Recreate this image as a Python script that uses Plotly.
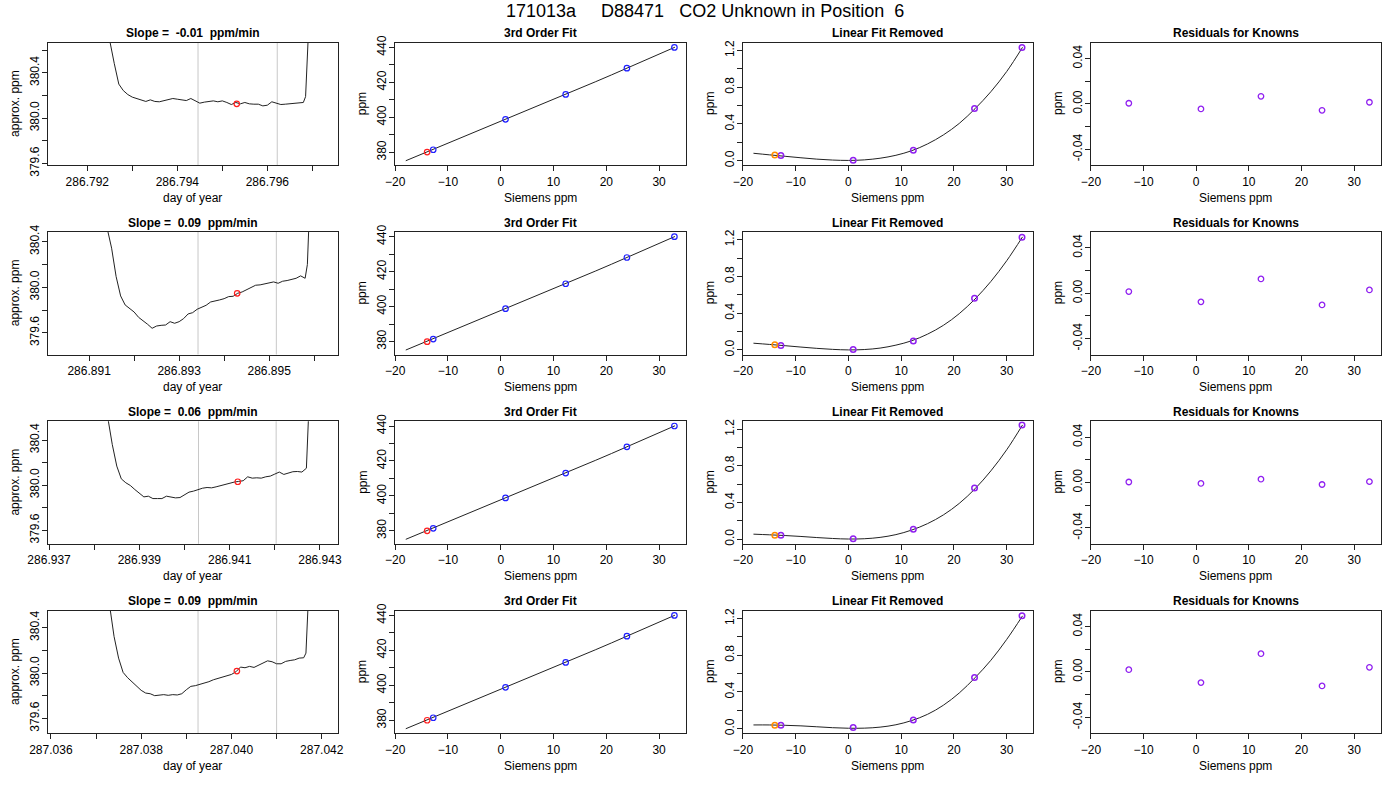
import plotly.graph_objects as go

# ------------------------------------------------------------------ data
main_title = "171013a     D88471   CO2 Unknown in Position  6"
slope_titles = ["Slope =  -0.01  ppm/min", "Slope =  0.09  ppm/min",
                "Slope =  0.06  ppm/min", "Slope =  0.09  ppm/min"]
fit_title = "3rd Order Fit"
lin_title = "Linear Fit Removed"
res_title = "Residuals for Knowns"

# time series (day of year, approx. ppm) for each of the 4 runs
day_r1 = [286.7914, 286.7920, 286.7924, 286.7925, 286.7926, 286.7927, 286.7928, 286.7929,
          286.7930, 286.7931, 286.7932, 286.7933, 286.7934, 286.7935, 286.7936, 286.7937,
          286.7938, 286.7939, 286.7940, 286.7941, 286.7942, 286.7943, 286.7944, 286.7945,
          286.7946, 286.7947, 286.7948, 286.7949, 286.7950, 286.7951, 286.7952, 286.7953,
          286.7954, 286.7955, 286.7956, 286.7957, 286.7958, 286.7959, 286.7960, 286.7961,
          286.7962, 286.7963, 286.7964, 286.7965, 286.7966, 286.7967, 286.7968, 286.79685,
          286.7969, 286.7970, 286.7975]
ppm_r1 = [392.0, 384.0, 381.2, 380.68, 380.48, 380.30, 380.243, 380.208,
          380.185, 380.173, 380.161, 380.147, 380.161, 380.147, 380.144, 380.152,
          380.161, 380.173, 380.167, 380.161, 380.155, 380.173, 380.152, 380.132,
          380.141, 380.147, 380.152, 380.144, 380.152, 380.138, 380.120, 380.138,
          380.126, 380.138, 380.126, 380.123, 380.123, 380.108, 380.114, 380.144,
          380.132, 380.120, 380.123, 380.126, 380.132, 380.132, 380.138, 380.19,
          381.0, 383.0, 386.0]

day_r2 = [286.8908, 286.8913, 286.8914, 286.8915, 286.8916, 286.8917, 286.8918, 286.8919,
          286.8920, 286.8921, 286.8922, 286.8923, 286.8924, 286.8925, 286.8926, 286.8927,
          286.8928, 286.8929, 286.8930, 286.8931, 286.8932, 286.8933, 286.8934, 286.8935,
          286.8936, 286.8937, 286.8938, 286.8939, 286.8940, 286.8941, 286.8942, 286.8943,
          286.8944, 286.8945, 286.8946, 286.8947, 286.8948, 286.8949, 286.8950, 286.8951,
          286.8952, 286.8953, 286.8954, 286.8955, 286.8956, 286.8957, 286.8958, 286.89585,
          286.8959, 286.8964]
ppm_r2 = [392.0, 381.5, 380.52, 380.343, 380.094, 379.924, 379.845, 379.810,
          379.783, 379.736, 379.707, 379.675, 379.640, 379.660, 379.666, 379.669,
          379.698, 379.684, 379.698, 379.725, 379.766, 379.777, 379.807, 379.824,
          379.842, 379.871, 379.877, 379.889, 379.900, 379.918, 379.921, 379.947,
          379.959, 379.977, 380.000, 380.018, 380.021, 380.029, 380.035, 380.047,
          380.035, 380.053, 380.059, 380.070, 380.079, 380.100, 380.079, 380.20,
          381.5, 386.0]

day_r3 = [286.9378, 286.9382, 286.9383, 286.9384, 286.9385, 286.9386, 286.9387, 286.9388,
          286.9389, 286.9390, 286.9391, 286.9392, 286.9393, 286.9394, 286.9395, 286.9396,
          286.9397, 286.9398, 286.9399, 286.9400, 286.9401, 286.9402, 286.9403, 286.9404,
          286.9405, 286.9406, 286.9407, 286.9408, 286.9409, 286.9410, 286.9411, 286.9412,
          286.9413, 286.9414, 286.9415, 286.9416, 286.9417, 286.9418, 286.9419, 286.9420,
          286.9421, 286.9422, 286.9423, 286.9424, 286.9425, 286.9426, 286.9427, 286.94275,
          286.9428, 286.9433]
ppm_r3 = [390.0, 381.5, 380.60, 380.361, 380.169, 380.056, 380.021, 379.997,
          379.961, 379.932, 379.896, 379.902, 379.881, 379.881, 379.881, 379.902,
          379.896, 379.887, 379.890, 379.914, 379.938, 379.947, 379.961, 379.973,
          379.979, 379.976, 379.985, 379.997, 380.009, 380.021, 380.027, 380.033,
          380.039, 380.074, 380.062, 380.065, 380.062, 380.074, 380.080, 380.098,
          380.116, 380.095, 380.104, 380.119, 380.121, 380.116, 380.15, 381.0,
          382.5, 386.0]

day_r4 = [287.0368, 287.0372, 287.0373, 287.0374, 287.0375, 287.0376, 287.0377, 287.0378,
          287.0379, 287.0380, 287.0381, 287.0382, 287.0383, 287.0384, 287.0385, 287.0386,
          287.0387, 287.0388, 287.0389, 287.0390, 287.0391, 287.0392, 287.0393, 287.0394,
          287.0395, 287.0396, 287.0397, 287.0398, 287.0399, 287.0400, 287.0401, 287.0402,
          287.0403, 287.0404, 287.0405, 287.0406, 287.0407, 287.0408, 287.0409, 287.0410,
          287.0411, 287.0412, 287.0413, 287.0414, 287.0415, 287.0416, 287.04165, 287.0417,
          287.0418, 287.0423]
ppm_r4 = [390.0, 382.0, 380.60, 380.322, 380.132, 380.006, 379.959, 379.921,
          379.883, 379.848, 379.824, 379.818, 379.801, 379.807, 379.810, 379.804,
          379.810, 379.807, 379.818, 379.853, 379.883, 379.889, 379.900, 379.912,
          379.924, 379.941, 379.953, 379.965, 379.971, 379.988, 380.012, 380.053,
          380.047, 380.059, 380.050, 380.070, 380.088, 380.108, 380.100, 380.082,
          380.082, 380.103, 380.111, 380.117, 380.132, 380.135, 380.176, 381.0,
          383.0, 386.0]

# averaging window (gray lines) and mean point (red) for each run
window_r1 = [286.79446, 286.79622]
window_r2 = [286.89342, 286.89516]
window_r3 = [286.94031, 286.94203]
window_r4 = [287.03926, 287.04100]
mean_day = [286.79532, 286.89429, 286.94118, 287.04012]
mean_ppm = [380.126, 379.947, 380.030, 380.018]

# axis ranges / ticks of the time-series panels
day_range = [[286.79112, 286.79757], [286.89008, 286.89653],
             [286.93697, 286.94340], [287.03593, 287.04236]]
ppm_range = [[379.585, 380.665], [379.410, 380.485],
             [379.480, 380.566], [379.470, 380.550]]
day_ticks = [[286.792, 286.793, 286.794, 286.795, 286.796, 286.797],
             [286.891, 286.892, 286.893, 286.894, 286.895, 286.896],
             [286.937, 286.938, 286.939, 286.940, 286.941, 286.942, 286.943],
             [287.036, 287.037, 287.038, 287.039, 287.040, 287.041, 287.042]]
day_ticklabels = [["286.792", "", "286.794", "", "286.796", ""],
                  ["286.891", "", "286.893", "", "286.895", ""],
                  ["286.937", "", "286.939", "", "286.941", "", "286.943"],
                  ["287.036", "", "287.038", "", "287.040", "", "287.042"]]
ppm_ticks = [379.4, 379.6, 379.8, 380.0, 380.2, 380.4, 380.6]
ppm_ticklabels = ["", "379.6", "", "380.0", "", "380.4", ""]

# calibration: Siemens ppm of the knowns, assigned ppm
siemens_known = [-12.8, 0.9, 12.3, 23.9, 32.9]
ppm_known = [381.45, 398.85, 413.1, 428.1, 440.0]
siemens_unknown = -13.95
ppm_unknown = [380.13, 379.95, 380.03, 380.02]

# fitted curve sampled along Siemens axis
fit_siemens = [-18, -15, -12, -9, -6, -3, 0, 3, 6, 9, 12, 15, 18, 21, 24, 27, 30, 33]
fit_ppm = [375.15, 378.89, 382.63, 386.37, 390.11, 393.85, 397.60, 401.36, 405.14,
           408.92, 412.74, 416.56, 420.42, 424.29, 428.21, 432.14, 436.12, 440.13]

# linear fit removed: curve and points, per run
nonlin_curve = [
    [0.080, 0.063, 0.047, 0.031, 0.016, 0.006, 0.002, 0.008, 0.026, 0.058, 0.108, 0.182, 0.280, 0.405, 0.566, 0.751, 0.971, 1.235],
    [0.073, 0.060, 0.046, 0.031, 0.017, 0.006, 0.000, 0.004, 0.020, 0.052, 0.100, 0.172, 0.268, 0.395, 0.555, 0.746, 0.972, 1.232],
    [0.055, 0.048, 0.040, 0.030, 0.018, 0.008, 0.002, 0.005, 0.020, 0.050, 0.100, 0.170, 0.265, 0.390, 0.550, 0.745, 0.975, 1.245],
    [0.040, 0.040, 0.036, 0.030, 0.020, 0.010, 0.004, 0.005, 0.016, 0.042, 0.088, 0.156, 0.255, 0.388, 0.555, 0.745, 0.972, 1.229],
]
nonlin_known = [
    [0.055, 0.004, 0.113, 0.567, 1.233],
    [0.047, 0.004, 0.098, 0.564, 1.229],
    [0.044, 0.004, 0.109, 0.558, 1.245],
    [0.036, 0.011, 0.094, 0.557, 1.229],
]
nonlin_unknown = [0.062, 0.055, 0.044, 0.036]

# residuals for knowns, per run
residuals = [
    [0.0006, -0.0044, 0.0067, -0.0056, 0.0015],
    [0.0015, -0.0076, 0.0126, -0.0103, 0.0029],
    [0.0005, -0.0008, 0.0030, -0.0017, 0.0008],
    [0.0020, -0.0094, 0.0161, -0.0123, 0.0041],
]

siemens_range = [-20.04, 35.04]
siemens_ticks = [-20, -10, 0, 10, 20, 30]
fit_range = [372.6, 442.7]
fit_ticks = [380, 390, 400, 410, 420, 430, 440]
fit_ticklabels = ["380", "", "400", "", "420", "", "440"]
nonlin_range = [-0.05, 1.285]
nonlin_ticks = [0.0, 0.2, 0.4, 0.6, 0.8, 1.0, 1.2]
nonlin_ticklabels = ["0.0", "", "0.4", "", "0.8", "", "1.2"]
res_range = [-0.054, 0.054]
res_ticks = [-0.04, -0.02, 0.0, 0.02, 0.04]
res_ticklabels = ["-0.04", "", "0.00", "", "0.04"]

series_day = [day_r1, day_r2, day_r3, day_r4]
series_ppm = [ppm_r1, ppm_r2, ppm_r3, ppm_r4]
windows = [window_r1, window_r2, window_r3, window_r4]

# ------------------------------------------------------------------ layout
W, H = 1400, 800
FONT = "Liberation Sans, Arial, Helvetica, sans-serif"
col_px = [(47.7, 338.0), (395.0, 685.7), (742.7, 1033.3), (1090.7, 1380.7)]
row_px = [(42.7, 165.2), (232.0, 354.5), (421.3, 543.8), (610.7, 733.2)]

LINE = "#222222"
GRAY = "#c8c8c8"
BLUE = "#2020ff"
RED = "#ff2020"
PURPLE = "#9020f0"
ORANGE = "#ff8c00"

fig = go.Figure()
layout = dict(
    template="none",
    width=W, height=H, margin=dict(l=0, r=0, t=0, b=0, pad=0, autoexpand=False),
    paper_bgcolor="white", plot_bgcolor="white", showlegend=False,
    font=dict(family=FONT, size=12, color="black"),
)
annotations = []
shapes = []


def axis_base():
    return dict(showline=True, mirror=True, linecolor=LINE, linewidth=1,
                ticks="outside", ticklen=5, tickcolor=LINE, tickwidth=1,
                showgrid=False, zeroline=False, automargin=False,
                tickfont=dict(family=FONT, size=12, color="black"))


def add_ann(text, xpx, ypx, size=12, bold=False, angle=0):
    annotations.append(dict(
        text=("<b>%s</b>" % text) if bold else text,
        x=xpx / W, y=1 - ypx / H, xref="paper", yref="paper",
        xanchor="center", yanchor="middle", showarrow=False, textangle=angle,
        font=dict(family=FONT, size=size, color="black")))


for r in range(4):
    for c in range(4):
        k = r * 4 + c + 1
        xa = "x" if k == 1 else "x%d" % k
        ya = "y" if k == 1 else "y%d" % k
        x0, x1 = col_px[c]
        y0, y1 = row_px[r]
        xax = axis_base()
        yax = axis_base()
        xax.update(domain=[x0 / W, x1 / W], anchor=ya)
        yax.update(domain=[1 - y1 / H, 1 - y0 / H], anchor=xa, tickangle=-90,
                   ticklabelstandoff=-2)
        if c == 0:
            xax.update(range=day_range[r], tickvals=day_ticks[r], ticktext=day_ticklabels[r])
            yax.update(range=ppm_range[r], tickvals=ppm_ticks, ticktext=ppm_ticklabels)
            title, xt, yt = slope_titles[r], "day of year", "approx. ppm"
            for v in windows[r]:
                shapes.append(dict(type="line", xref=xa, yref=ya + " domain",
                                   x0=v, x1=v, y0=0, y1=1, layer="below",
                                   line=dict(color=GRAY, width=1)))
            fig.add_trace(go.Scatter(x=series_day[r], y=series_ppm[r], mode="lines",
                                     line=dict(color=LINE, width=1), xaxis=xa, yaxis=ya))
            fig.add_trace(go.Scatter(x=[mean_day[r]], y=[mean_ppm[r]], mode="markers",
                                     marker=dict(symbol="circle-open", size=5.5, color=RED,
                                                 line=dict(width=1.2, color=RED)),
                                     xaxis=xa, yaxis=ya))
        else:
            xax.update(range=siemens_range, tickvals=siemens_ticks)
            xt, yt = "Siemens ppm", "ppm"
            if c == 1:
                yax.update(range=fit_range, tickvals=fit_ticks, ticktext=fit_ticklabels)
                title = fit_title
                fig.add_trace(go.Scatter(x=fit_siemens, y=fit_ppm, mode="lines",
                                         line=dict(color=LINE, width=1), xaxis=xa, yaxis=ya))
                fig.add_trace(go.Scatter(x=siemens_known, y=ppm_known, mode="markers",
                                         marker=dict(symbol="circle-open", size=5.5, color=BLUE,
                                                     line=dict(width=1.2, color=BLUE)),
                                         xaxis=xa, yaxis=ya))
                fig.add_trace(go.Scatter(x=[siemens_unknown], y=[ppm_unknown[r]], mode="markers",
                                         marker=dict(symbol="circle-open", size=5.5, color=RED,
                                                     line=dict(width=1.2, color=RED)),
                                         xaxis=xa, yaxis=ya))
            elif c == 2:
                yax.update(range=nonlin_range, tickvals=nonlin_ticks, ticktext=nonlin_ticklabels)
                title = lin_title
                fig.add_trace(go.Scatter(x=fit_siemens, y=nonlin_curve[r], mode="lines",
                                         line=dict(color=LINE, width=1, shape="spline", smoothing=1),
                                         xaxis=xa, yaxis=ya))
                fig.add_trace(go.Scatter(x=siemens_known, y=nonlin_known[r], mode="markers",
                                         marker=dict(symbol="circle-open", size=5.5, color=PURPLE,
                                                     line=dict(width=1.5, color=PURPLE)),
                                         xaxis=xa, yaxis=ya))
                fig.add_trace(go.Scatter(x=[siemens_unknown], y=[nonlin_unknown[r]], mode="markers",
                                         marker=dict(symbol="circle-open", size=5.5, color=ORANGE,
                                                     line=dict(width=1.5, color=ORANGE)),
                                         xaxis=xa, yaxis=ya))
            else:
                yax.update(range=res_range, tickvals=res_ticks, ticktext=res_ticklabels)
                title = res_title
                fig.add_trace(go.Scatter(x=siemens_known, y=residuals[r], mode="markers",
                                         marker=dict(symbol="circle-open", size=5.5, color=PURPLE,
                                                     line=dict(width=1.3, color=PURPLE)),
                                         xaxis=xa, yaxis=ya))
        layout["xaxis" if k == 1 else "xaxis%d" % k] = xax
        layout["yaxis" if k == 1 else "yaxis%d" % k] = yax
        cx = (x0 + x1) / 2
        cy = (y0 + y1) / 2
        add_ann(title, cx, y0 - 9.4, size=12, bold=True)
        add_ann(xt, cx, y1 + 32.4, size=12)
        add_ann(yt, x0 - 32.7, cy, size=12, angle=-90)

add_ann(main_title, 705, 11, size=18)

layout["annotations"] = annotations
layout["shapes"] = shapes
fig.update_layout(**layout)
fig.write_html("out.html", config={"displayModeBar": False},
               post_script="document.body.style.margin='0';")
